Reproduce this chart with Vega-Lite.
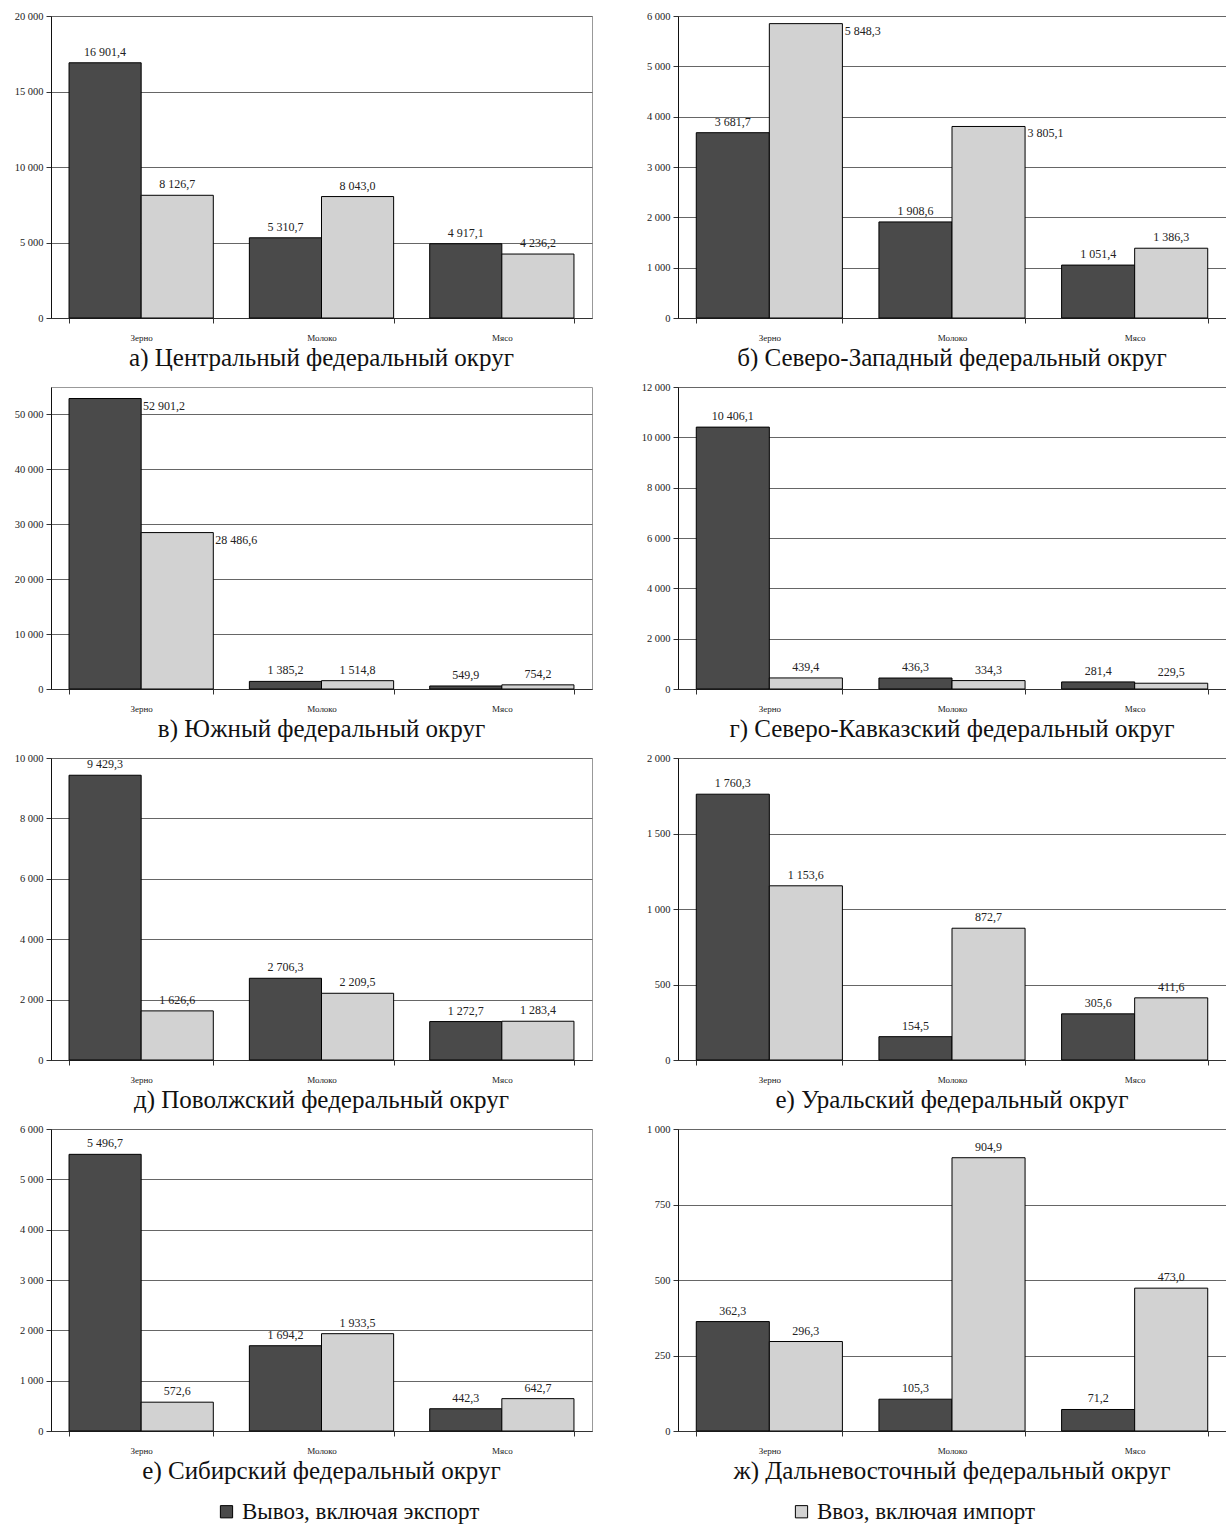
{
  "$schema": "https://vega.github.io/schema/vega-lite/v6.json",
  "padding": {"left": 13, "top": 10, "right": 1, "bottom": 10},
  "background": "white",
  "columns": 2,
  "bounds": "flush",
  "spacing": {"row": 69, "column": 86},
  "datasets": {
    "d": [
      {"region": "Центральный", "product": "Зерно", "flow": "Вывоз", "value": 16901.4},
      {"region": "Центральный", "product": "Зерно", "flow": "Ввоз", "value": 8126.7},
      {"region": "Центральный", "product": "Молоко", "flow": "Вывоз", "value": 5310.7},
      {"region": "Центральный", "product": "Молоко", "flow": "Ввоз", "value": 8043.0},
      {"region": "Центральный", "product": "Мясо", "flow": "Вывоз", "value": 4917.1},
      {"region": "Центральный", "product": "Мясо", "flow": "Ввоз", "value": 4236.2},
      {"region": "Северо-Западный", "product": "Зерно", "flow": "Вывоз", "value": 3681.7},
      {"region": "Северо-Западный", "product": "Зерно", "flow": "Ввоз", "value": 5848.3},
      {"region": "Северо-Западный", "product": "Молоко", "flow": "Вывоз", "value": 1908.6},
      {"region": "Северо-Западный", "product": "Молоко", "flow": "Ввоз", "value": 3805.1},
      {"region": "Северо-Западный", "product": "Мясо", "flow": "Вывоз", "value": 1051.4},
      {"region": "Северо-Западный", "product": "Мясо", "flow": "Ввоз", "value": 1386.3},
      {"region": "Южный", "product": "Зерно", "flow": "Вывоз", "value": 52901.2},
      {"region": "Южный", "product": "Зерно", "flow": "Ввоз", "value": 28486.6},
      {"region": "Южный", "product": "Молоко", "flow": "Вывоз", "value": 1385.2},
      {"region": "Южный", "product": "Молоко", "flow": "Ввоз", "value": 1514.8},
      {"region": "Южный", "product": "Мясо", "flow": "Вывоз", "value": 549.9},
      {"region": "Южный", "product": "Мясо", "flow": "Ввоз", "value": 754.2},
      {"region": "Северо-Кавказский", "product": "Зерно", "flow": "Вывоз", "value": 10406.1},
      {"region": "Северо-Кавказский", "product": "Зерно", "flow": "Ввоз", "value": 439.4},
      {"region": "Северо-Кавказский", "product": "Молоко", "flow": "Вывоз", "value": 436.3},
      {"region": "Северо-Кавказский", "product": "Молоко", "flow": "Ввоз", "value": 334.3},
      {"region": "Северо-Кавказский", "product": "Мясо", "flow": "Вывоз", "value": 281.4},
      {"region": "Северо-Кавказский", "product": "Мясо", "flow": "Ввоз", "value": 229.5},
      {"region": "Поволжский", "product": "Зерно", "flow": "Вывоз", "value": 9429.3},
      {"region": "Поволжский", "product": "Зерно", "flow": "Ввоз", "value": 1626.6},
      {"region": "Поволжский", "product": "Молоко", "flow": "Вывоз", "value": 2706.3},
      {"region": "Поволжский", "product": "Молоко", "flow": "Ввоз", "value": 2209.5},
      {"region": "Поволжский", "product": "Мясо", "flow": "Вывоз", "value": 1272.7},
      {"region": "Поволжский", "product": "Мясо", "flow": "Ввоз", "value": 1283.4},
      {"region": "Уральский", "product": "Зерно", "flow": "Вывоз", "value": 1760.3},
      {"region": "Уральский", "product": "Зерно", "flow": "Ввоз", "value": 1153.6},
      {"region": "Уральский", "product": "Молоко", "flow": "Вывоз", "value": 154.5},
      {"region": "Уральский", "product": "Молоко", "flow": "Ввоз", "value": 872.7},
      {"region": "Уральский", "product": "Мясо", "flow": "Вывоз", "value": 305.6},
      {"region": "Уральский", "product": "Мясо", "flow": "Ввоз", "value": 411.6},
      {"region": "Сибирский", "product": "Зерно", "flow": "Вывоз", "value": 5496.7},
      {"region": "Сибирский", "product": "Зерно", "flow": "Ввоз", "value": 572.6},
      {"region": "Сибирский", "product": "Молоко", "flow": "Вывоз", "value": 1694.2},
      {"region": "Сибирский", "product": "Молоко", "flow": "Ввоз", "value": 1933.5},
      {"region": "Сибирский", "product": "Мясо", "flow": "Вывоз", "value": 442.3},
      {"region": "Сибирский", "product": "Мясо", "flow": "Ввоз", "value": 642.7},
      {"region": "Дальневосточный", "product": "Зерно", "flow": "Вывоз", "value": 362.3},
      {"region": "Дальневосточный", "product": "Зерно", "flow": "Ввоз", "value": 296.3},
      {"region": "Дальневосточный", "product": "Молоко", "flow": "Вывоз", "value": 105.3},
      {"region": "Дальневосточный", "product": "Молоко", "flow": "Ввоз", "value": 904.9},
      {"region": "Дальневосточный", "product": "Мясо", "flow": "Вывоз", "value": 71.2},
      {"region": "Дальневосточный", "product": "Мясо", "flow": "Ввоз", "value": 473.0}
    ]
  },
  "data": {"name": "d"},
  "concat": [
    {
      "width": 541, "height": 302,
      "title": {"text": "а) Центральный федеральный округ"},
      "transform": [{"filter": "datum.region === 'Центральный'"}],
      "encoding": {
        "x": {"field": "product", "type": "nominal", "sort": ["Зерно", "Молоко", "Мясо"], "scale": {"paddingInner": 0.2, "paddingOuter": 0.1}, "title": null},
        "xOffset": {"field": "flow", "type": "nominal", "sort": ["Вывоз", "Ввоз"]},
        "y": {"field": "value", "type": "quantitative", "scale": {"domain": [0, 20000], "nice": false}, "axis": {"values": [0, 5000, 10000, 15000, 20000]}, "title": null}
      },
      "layer": [
        {"mark": {"type": "bar", "stroke": "black", "strokeWidth": 1},
         "encoding": {"fill": {"field": "flow", "type": "nominal", "scale": {"domain": ["Вывоз", "Ввоз"], "range": ["#4a4a4a", "#d2d2d2"]},
           "legend": {"orient": "none", "legendX": 164, "legendY": 1484, "direction": "horizontal", "title": null,
             "labelExpr": "datum.label === 'Вывоз' ? 'Вывоз, включая экспорт' : 'Ввоз, включая импорт'",
             "labelFont": "Liberation Serif", "labelFontSize": 23, "labelColor": "#111", "labelLimit": 400,
             "symbolType": "square", "symbolSize": 150, "symbolStrokeColor": "black", "symbolStrokeWidth": 1, "columnPadding": 310}}}},
        {"mark": {"type": "text", "baseline": "alphabetic", "dy": -7, "font": "Liberation Serif", "fontSize": 12, "fill": "#222"},
         "encoding": {"text": {"field": "value", "type": "quantitative", "format": ",.1f"}}}
      ]
    },
    {
      "width": 548, "height": 302,
      "title": {"text": "б) Северо-Западный федеральный округ"},
      "transform": [{"filter": "datum.region === 'Северо-Западный'"}],
      "encoding": {
        "x": {"field": "product", "type": "nominal", "sort": ["Зерно", "Молоко", "Мясо"], "scale": {"paddingInner": 0.2, "paddingOuter": 0.1}, "title": null},
        "xOffset": {"field": "flow", "type": "nominal", "sort": ["Вывоз", "Ввоз"]},
        "y": {"field": "value", "type": "quantitative", "scale": {"domain": [0, 6000], "nice": false}, "axis": {"values": [0, 1000, 2000, 3000, 4000, 5000, 6000]}, "title": null}
      },
      "layer": [
        {"mark": {"type": "bar", "stroke": "black", "strokeWidth": 1},
         "encoding": {"fill": {"field": "flow", "type": "nominal", "scale": {"domain": ["Вывоз", "Ввоз"], "range": ["#4a4a4a", "#d2d2d2"]}}}},
        {"transform": [{"filter": "!(datum.flow === 'Ввоз' && datum.product !== 'Мясо')"}],
         "mark": {"type": "text", "baseline": "alphabetic", "dy": -7, "font": "Liberation Serif", "fontSize": 12, "fill": "#222"},
         "encoding": {"text": {"field": "value", "type": "quantitative", "format": ",.1f"}}},
        {"transform": [{"filter": "datum.flow === 'Ввоз' && datum.product !== 'Мясо'"}],
         "mark": {"type": "text", "align": "left", "baseline": "top", "dx": 39, "dy": 2, "font": "Liberation Serif", "fontSize": 12, "fill": "#222"},
         "encoding": {"text": {"field": "value", "type": "quantitative", "format": ",.1f"}}}
      ]
    },
    {
      "width": 541, "height": 302,
      "title": {"text": "в) Южный федеральный округ"},
      "transform": [{"filter": "datum.region === 'Южный'"}],
      "encoding": {
        "x": {"field": "product", "type": "nominal", "sort": ["Зерно", "Молоко", "Мясо"], "scale": {"paddingInner": 0.2, "paddingOuter": 0.1}, "title": null},
        "xOffset": {"field": "flow", "type": "nominal", "sort": ["Вывоз", "Ввоз"]},
        "y": {"field": "value", "type": "quantitative", "scale": {"domain": [0, 55000], "nice": false}, "axis": {"values": [0, 10000, 20000, 30000, 40000, 50000]}, "title": null}
      },
      "layer": [
        {"mark": {"type": "bar", "stroke": "black", "strokeWidth": 1},
         "encoding": {"fill": {"field": "flow", "type": "nominal", "scale": {"domain": ["Вывоз", "Ввоз"], "range": ["#4a4a4a", "#d2d2d2"]}}}},
        {"transform": [{"filter": "datum.product !== 'Зерно'"}],
         "mark": {"type": "text", "baseline": "alphabetic", "dy": -7, "font": "Liberation Serif", "fontSize": 12, "fill": "#222"},
         "encoding": {"text": {"field": "value", "type": "quantitative", "format": ",.1f"}}},
        {"transform": [{"filter": "datum.product === 'Зерно'"}],
         "mark": {"type": "text", "align": "left", "baseline": "top", "dx": 38, "dy": 2, "font": "Liberation Serif", "fontSize": 12, "fill": "#222"},
         "encoding": {"text": {"field": "value", "type": "quantitative", "format": ",.1f"}}}
      ]
    },
    {
      "width": 548, "height": 302,
      "title": {"text": "г) Северо-Кавказский федеральный округ"},
      "transform": [{"filter": "datum.region === 'Северо-Кавказский'"}],
      "encoding": {
        "x": {"field": "product", "type": "nominal", "sort": ["Зерно", "Молоко", "Мясо"], "scale": {"paddingInner": 0.2, "paddingOuter": 0.1}, "title": null},
        "xOffset": {"field": "flow", "type": "nominal", "sort": ["Вывоз", "Ввоз"]},
        "y": {"field": "value", "type": "quantitative", "scale": {"domain": [0, 12000], "nice": false}, "axis": {"values": [0, 2000, 4000, 6000, 8000, 10000, 12000]}, "title": null}
      },
      "layer": [
        {"mark": {"type": "bar", "stroke": "black", "strokeWidth": 1},
         "encoding": {"fill": {"field": "flow", "type": "nominal", "scale": {"domain": ["Вывоз", "Ввоз"], "range": ["#4a4a4a", "#d2d2d2"]}}}},
        {"mark": {"type": "text", "baseline": "alphabetic", "dy": -7, "font": "Liberation Serif", "fontSize": 12, "fill": "#222"},
         "encoding": {"text": {"field": "value", "type": "quantitative", "format": ",.1f"}}}
      ]
    },
    {
      "width": 541, "height": 302,
      "title": {"text": "д) Поволжский федеральный округ"},
      "transform": [{"filter": "datum.region === 'Поволжский'"}],
      "encoding": {
        "x": {"field": "product", "type": "nominal", "sort": ["Зерно", "Молоко", "Мясо"], "scale": {"paddingInner": 0.2, "paddingOuter": 0.1}, "title": null},
        "xOffset": {"field": "flow", "type": "nominal", "sort": ["Вывоз", "Ввоз"]},
        "y": {"field": "value", "type": "quantitative", "scale": {"domain": [0, 10000], "nice": false}, "axis": {"values": [0, 2000, 4000, 6000, 8000, 10000]}, "title": null}
      },
      "layer": [
        {"mark": {"type": "bar", "stroke": "black", "strokeWidth": 1},
         "encoding": {"fill": {"field": "flow", "type": "nominal", "scale": {"domain": ["Вывоз", "Ввоз"], "range": ["#4a4a4a", "#d2d2d2"]}}}},
        {"mark": {"type": "text", "baseline": "alphabetic", "dy": -7, "font": "Liberation Serif", "fontSize": 12, "fill": "#222"},
         "encoding": {"text": {"field": "value", "type": "quantitative", "format": ",.1f"}}}
      ]
    },
    {
      "width": 548, "height": 302,
      "title": {"text": "е) Уральский федеральный округ"},
      "transform": [{"filter": "datum.region === 'Уральский'"}],
      "encoding": {
        "x": {"field": "product", "type": "nominal", "sort": ["Зерно", "Молоко", "Мясо"], "scale": {"paddingInner": 0.2, "paddingOuter": 0.1}, "title": null},
        "xOffset": {"field": "flow", "type": "nominal", "sort": ["Вывоз", "Ввоз"]},
        "y": {"field": "value", "type": "quantitative", "scale": {"domain": [0, 2000], "nice": false}, "axis": {"values": [0, 500, 1000, 1500, 2000]}, "title": null}
      },
      "layer": [
        {"mark": {"type": "bar", "stroke": "black", "strokeWidth": 1},
         "encoding": {"fill": {"field": "flow", "type": "nominal", "scale": {"domain": ["Вывоз", "Ввоз"], "range": ["#4a4a4a", "#d2d2d2"]}}}},
        {"mark": {"type": "text", "baseline": "alphabetic", "dy": -7, "font": "Liberation Serif", "fontSize": 12, "fill": "#222"},
         "encoding": {"text": {"field": "value", "type": "quantitative", "format": ",.1f"}}}
      ]
    },
    {
      "width": 541, "height": 302,
      "title": {"text": "е) Сибирский федеральный округ"},
      "transform": [{"filter": "datum.region === 'Сибирский'"}],
      "encoding": {
        "x": {"field": "product", "type": "nominal", "sort": ["Зерно", "Молоко", "Мясо"], "scale": {"paddingInner": 0.2, "paddingOuter": 0.1}, "title": null},
        "xOffset": {"field": "flow", "type": "nominal", "sort": ["Вывоз", "Ввоз"]},
        "y": {"field": "value", "type": "quantitative", "scale": {"domain": [0, 6000], "nice": false}, "axis": {"values": [0, 1000, 2000, 3000, 4000, 5000, 6000]}, "title": null}
      },
      "layer": [
        {"mark": {"type": "bar", "stroke": "black", "strokeWidth": 1},
         "encoding": {"fill": {"field": "flow", "type": "nominal", "scale": {"domain": ["Вывоз", "Ввоз"], "range": ["#4a4a4a", "#d2d2d2"]}}}},
        {"mark": {"type": "text", "baseline": "alphabetic", "dy": -7, "font": "Liberation Serif", "fontSize": 12, "fill": "#222"},
         "encoding": {"text": {"field": "value", "type": "quantitative", "format": ",.1f"}}}
      ]
    },
    {
      "width": 548, "height": 302,
      "title": {"text": "ж) Дальневосточный федеральный округ"},
      "transform": [{"filter": "datum.region === 'Дальневосточный'"}],
      "encoding": {
        "x": {"field": "product", "type": "nominal", "sort": ["Зерно", "Молоко", "Мясо"], "scale": {"paddingInner": 0.2, "paddingOuter": 0.1}, "title": null},
        "xOffset": {"field": "flow", "type": "nominal", "sort": ["Вывоз", "Ввоз"]},
        "y": {"field": "value", "type": "quantitative", "scale": {"domain": [0, 1000], "nice": false}, "axis": {"values": [0, 250, 500, 750, 1000]}, "title": null}
      },
      "layer": [
        {"mark": {"type": "bar", "stroke": "black", "strokeWidth": 1},
         "encoding": {"fill": {"field": "flow", "type": "nominal", "scale": {"domain": ["Вывоз", "Ввоз"], "range": ["#4a4a4a", "#d2d2d2"]}}}},
        {"mark": {"type": "text", "baseline": "alphabetic", "dy": -7, "font": "Liberation Serif", "fontSize": 12, "fill": "#222"},
         "encoding": {"text": {"field": "value", "type": "quantitative", "format": ",.1f"}}}
      ]
    }
  ],
  "resolve": {"scale": {"y": "independent", "x": "independent", "xOffset": "independent"}},
  "config": {
    "locale": {"number": {"decimal": ",", "thousands": " ", "grouping": [3], "currency": ["", ""]}},
    "font": "Liberation Serif",
    "view": {"stroke": "#999999", "strokeWidth": 1},
    "title": {"orient": "bottom", "font": "Liberation Serif", "fontSize": 25, "fontWeight": "normal", "color": "#111", "offset": 4, "anchor": "middle"},
    "axisX": {"labelAngle": 0, "labelFont": "Liberation Serif", "labelFontSize": 9, "labelColor": "#222", "tickBand": "extent", "tickSize": 5, "tickColor": "#333", "domainColor": "#333", "labelPadding": 10, "grid": false},
    "axisY": {"labelFont": "Liberation Serif", "labelFontSize": 10.5, "labelColor": "#222", "tickSize": 5, "tickColor": "#333", "domainColor": "#111", "labelPadding": 3, "grid": true, "gridColor": "#666", "gridWidth": 1, "format": ",d", "minExtent": 36, "maxExtent": 36}
  }
}
